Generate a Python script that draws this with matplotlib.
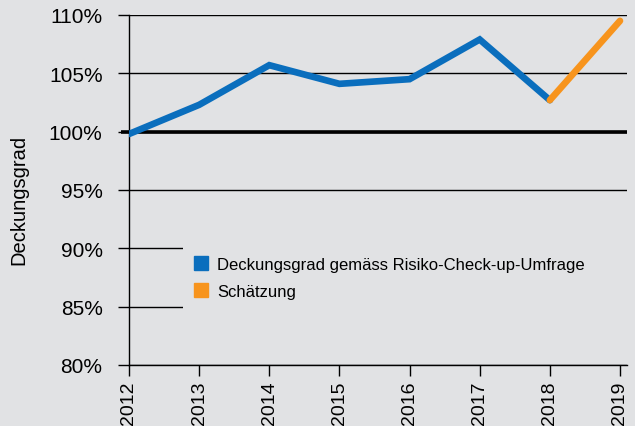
import numpy as np
import matplotlib
matplotlib.use("Agg")
import matplotlib.pyplot as plt
from matplotlib.patches import Rectangle

years = [2012, 2013, 2014, 2015, 2016, 2017, 2018, 2019]
deckungsgrad = [99.8, 102.3, 105.7, 104.1, 104.5, 107.9, 102.7]
schaetzung_years = [2018, 2019]
schaetzung = [102.7, 109.5]
yticks = [80, 85, 90, 95, 100, 105, 110]

bg = "#e1e2e4"
blue = "#0a6ebd"
orange = "#f7941d"
fam = ["Liberation Sans", "DejaVu Sans"]
plt.rcParams["font.family"] = fam

fig = plt.figure(figsize=(6.35, 4.27), dpi=100, facecolor=bg)
ax = fig.add_axes([129 / 635, 1 - 366 / 427, 498 / 635, 350 / 427])
ax.set_facecolor(bg)

ax.set_xlim(2012, 2019.1)
ax.set_ylim(80, 110)

ax.set_yticks(yticks)
ax.set_yticklabels([f"{v}%" for v in yticks], fontsize=15)
ax.set_xticks(years)
ax.set_xticklabels([str(y) for y in years], fontsize=14, rotation=90)
ax.tick_params(axis="y", length=8, width=1, direction="out", pad=11)
ax.tick_params(axis="x", length=8, width=1, direction="out", pad=3)

for s in ["top", "right"]:
    ax.spines[s].set_visible(False)
ax.spines["left"].set_linewidth(1)
ax.spines["bottom"].set_linewidth(1)

ax.grid(axis="y", color="black", lw=1.0)
ax.set_axisbelow(True)
ax.hlines(100, 2011.88, 2019.1, color="black", lw=2.6, clip_on=False, zorder=2)

# grey panel behind the legend hides part of the grid
ax.add_patch(Rectangle((0.108, 0.10), 0.9, 0.29, transform=ax.transAxes,
                       facecolor=bg, edgecolor="none", zorder=1))

ax.plot(years[:len(deckungsgrad)], deckungsgrad, color=blue, lw=4.8,
        solid_capstyle="round", solid_joinstyle="miter", zorder=3,
        label="Deckungsgrad gemäss Risiko-Check-up-Umfrage")
ax.plot(schaetzung_years, schaetzung, color=orange, lw=4.8,
        solid_capstyle="round", zorder=3, label="Schätzung")

ax.set_ylabel("Deckungsgrad", fontsize=14.5)
ax.yaxis.set_label_coords(-0.203, 0.474)

leg = ax.legend(loc="upper left", bbox_to_anchor=(0.132, 0.31), frameon=False,
                prop={"size": 12}, handlelength=0.8, handleheight=0.8,
                handletextpad=0.55, labelspacing=0.75, borderpad=0,
                borderaxespad=0)
for h, c in zip(leg.legend_handles, [blue, orange]):
    h.set_linewidth(0)
    h.set_marker("s")
    h.set_markersize(10)
    h.set_markerfacecolor(c)
    h.set_markeredgecolor(c)

fig.savefig("out.png", dpi=100, facecolor=bg)
